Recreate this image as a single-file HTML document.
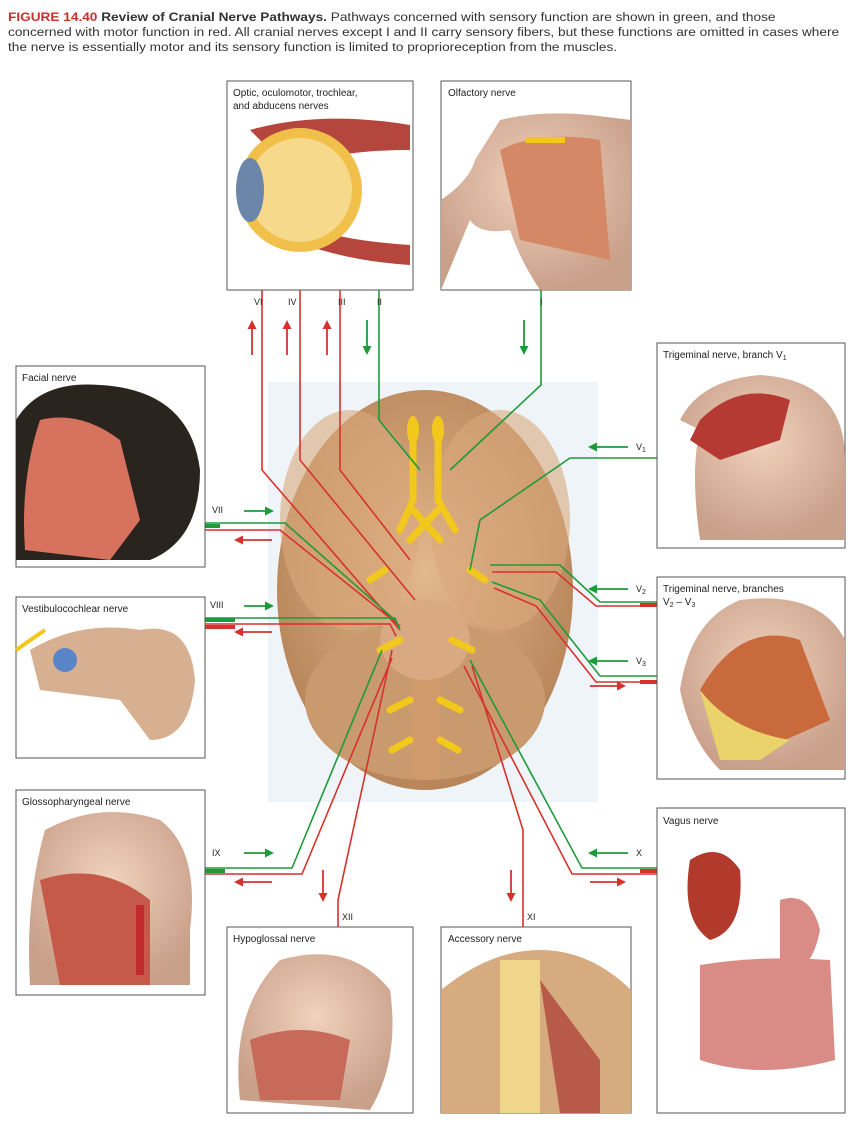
<!DOCTYPE html>
<html><head><meta charset="utf-8"><style>
body{margin:0;background:#fff;}
.cap{position:absolute;left:8px;top:10px;font:12.4px/15px "Liberation Sans",sans-serif;color:#333;white-space:nowrap;transform:scaleX(1.1);transform-origin:0 0;}
.cap b.r{color:#c8312b}
</style></head><body>
<div class="cap"><b class="r">FIGURE 14.40</b> <b>Review of Cranial Nerve Pathways.</b> Pathways concerned with sensory function are shown in green, and those<br>concerned with motor function in red. All cranial nerves except I and II carry sensory fibers, but these functions are omitted in cases where<br>the nerve is essentially motor and its sensory function is limited to proprioreception from the muscles.</div>
<svg width="862" height="1128" style="position:absolute;left:0;top:0" font-family="Liberation Sans, sans-serif">
<defs>
<marker id="g" markerUnits="userSpaceOnUse" markerWidth="9" markerHeight="9" refX="7" refY="4.5" orient="auto"><path d="M0,0L9,4.5L0,9z" fill="#1f9a3a"/></marker>
<marker id="r" markerUnits="userSpaceOnUse" markerWidth="9" markerHeight="9" refX="7" refY="4.5" orient="auto"><path d="M0,0L9,4.5L0,9z" fill="#d6322c"/></marker>
<radialGradient id="br" cx="50%" cy="45%" r="55%"><stop offset="0" stop-color="#e3b88c"/><stop offset="1" stop-color="#b8855a"/></radialGradient>
<radialGradient id="sk" cx="50%" cy="40%" r="60%"><stop offset="0" stop-color="#f1d2bd"/><stop offset="1" stop-color="#c9a08a"/></radialGradient>
</defs>
<rect x="268" y="382" width="330" height="420" fill="#eef4f8"/>
<ellipse cx="425" cy="590" rx="148" ry="200" fill="url(#br)"/>
<ellipse cx="350" cy="520" rx="70" ry="110" fill="#d9a97c" opacity=".6"/>
<ellipse cx="500" cy="520" rx="70" ry="110" fill="#d9a97c" opacity=".6"/>
<ellipse cx="425" cy="700" rx="120" ry="80" fill="#c99a6e"/>
<rect x="412" y="620" width="28" height="160" rx="10" fill="#d09a6a"/>
<ellipse cx="425" cy="640" rx="45" ry="40" fill="#d8a982"/>
<g stroke="#f2c81c" stroke-width="7" fill="none" stroke-linecap="round">
<path d="M413,430L413,500M438,430L438,500M413,500L400,530M438,500L455,530M413,510L440,540M438,510L410,540"/>
<path d="M385,570L370,580M470,570L485,580M400,640L380,650M452,640L472,650M410,700L390,710M440,700L460,710M410,740L392,750M440,740L458,750"/>
</g>
<ellipse cx="413" cy="430" rx="6" ry="14" fill="#f2c81c"/><ellipse cx="438" cy="430" rx="6" ry="14" fill="#f2c81c"/>
<g fill="none" stroke-width="1.6">
<path d="M262,290V470L400,630" stroke="#d6322c"/>
<path d="M300,290V460L415,600" stroke="#d6322c"/>
<path d="M340,290V470L410,560" stroke="#d6322c"/>
<path d="M379,290V420L420,470" stroke="#1f9a3a"/>
<path d="M541,290V385L450,470" stroke="#1f9a3a"/>
<path d="M657,458H570L480,520L470,570" stroke="#1f9a3a"/>
<path d="M657,602H600L560,565H490" stroke="#1f9a3a"/>
<path d="M657,606H596L556,572H492" stroke="#d6322c"/>
<path d="M657,676H600L540,600L492,582" stroke="#1f9a3a"/>
<path d="M657,682H596L536,606L494,588" stroke="#d6322c"/>
<path d="M205,523H285L395,620" stroke="#1f9a3a"/>
<path d="M205,530H280L400,626" stroke="#d6322c"/>
<path d="M205,618H395L400,630" stroke="#1f9a3a"/>
<path d="M205,624H390L396,636" stroke="#d6322c"/>
<path d="M205,868H292L382,650" stroke="#1f9a3a"/>
<path d="M205,874H302L392,658" stroke="#d6322c"/>
<path d="M657,868H582L470,660" stroke="#1f9a3a"/>
<path d="M657,874H572L464,666" stroke="#d6322c"/>
<path d="M338,927V900L392,650" stroke="#d6322c"/>
<path d="M523,927V830L472,666" stroke="#d6322c"/>
</g>
<g stroke-width="4"><path d="M205,526h15" stroke="#1f9a3a"/><path d="M205,620h30" stroke="#1f9a3a"/><path d="M205,627h30" stroke="#d6322c"/><path d="M205,871h20" stroke="#1f9a3a"/><path d="M640,605h17" stroke="#d6322c"/><path d="M640,682h17" stroke="#d6322c"/><path d="M640,871h17" stroke="#d6322c"/></g>
<g stroke-width="1.8">
<path d="M252,355V322" stroke="#d6322c" marker-end="url(#r)"/>
<path d="M287,355V322" stroke="#d6322c" marker-end="url(#r)"/>
<path d="M327,355V322" stroke="#d6322c" marker-end="url(#r)"/>
<path d="M367,320V353" stroke="#1f9a3a" marker-end="url(#g)"/>
<path d="M524,320V353" stroke="#1f9a3a" marker-end="url(#g)"/>
<path d="M244,511H272" stroke="#1f9a3a" marker-end="url(#g)"/>
<path d="M272,540H236" stroke="#d6322c" marker-end="url(#r)"/>
<path d="M244,606H272" stroke="#1f9a3a" marker-end="url(#g)"/>
<path d="M272,632H236" stroke="#d6322c" marker-end="url(#r)"/>
<path d="M244,853H272" stroke="#1f9a3a" marker-end="url(#g)"/>
<path d="M272,882H236" stroke="#d6322c" marker-end="url(#r)"/>
<path d="M628,447H590" stroke="#1f9a3a" marker-end="url(#g)"/>
<path d="M628,589H590" stroke="#1f9a3a" marker-end="url(#g)"/>
<path d="M628,661H590" stroke="#1f9a3a" marker-end="url(#g)"/>
<path d="M590,686H624" stroke="#d6322c" marker-end="url(#r)"/>
<path d="M628,853H590" stroke="#1f9a3a" marker-end="url(#g)"/>
<path d="M590,882H624" stroke="#d6322c" marker-end="url(#r)"/>
<path d="M323,870V900" stroke="#d6322c" marker-end="url(#r)"/>
<path d="M511,870V900" stroke="#d6322c" marker-end="url(#r)"/>
</g>
<g font-size="9" fill="#222">
<text x="254" y="305">VI</text><text x="288" y="305">IV</text><text x="338" y="305">III</text><text x="377" y="305">II</text><text x="540" y="305">I</text>
<text x="212" y="513">VII</text><text x="210" y="608">VIII</text><text x="212" y="856">IX</text>
<text x="636" y="450">V<tspan font-size="7" dy="2">1</tspan></text><text x="636" y="592">V<tspan font-size="7" dy="2">2</tspan></text><text x="636" y="664">V<tspan font-size="7" dy="2">3</tspan></text>
<text x="636" y="856">X</text><text x="342" y="920">XII</text><text x="527" y="920">XI</text>
</g>
<g fill="#fff" stroke="#555" stroke-width="1">
<rect x="227" y="81" width="186" height="209"/><rect x="441" y="81" width="190" height="209"/>
<rect x="657" y="343" width="188" height="205"/><rect x="16" y="366" width="189" height="201"/>
<rect x="16" y="597" width="189" height="161"/><rect x="657" y="577" width="188" height="202"/>
<rect x="16" y="790" width="189" height="205"/><rect x="657" y="808" width="188" height="305"/>
<rect x="227" y="927" width="186" height="186"/><rect x="441" y="927" width="190" height="186"/>
</g>
<g font-size="10" fill="#222">
<text x="233" y="96">Optic, oculomotor, trochlear,</text><text x="233" y="109">and abducens nerves</text>
<text x="448" y="96">Olfactory nerve</text>
<text x="663" y="358">Trigeminal nerve, branch V<tspan font-size="7" dy="2">1</tspan></text>
<text x="22" y="381">Facial nerve</text>
<text x="22" y="612">Vestibulocochlear nerve</text>
<text x="663" y="592">Trigeminal nerve, branches</text><text x="663" y="605">V<tspan font-size="7" dy="2">2</tspan><tspan dy="-2"> – V</tspan><tspan font-size="7" dy="2">3</tspan></text>
<text x="22" y="805">Glossopharyngeal nerve</text>
<text x="663" y="824">Vagus nerve</text>
<text x="233" y="942">Hypoglossal nerve</text>
<text x="448" y="942">Accessory nerve</text>
</g>
<path d="M250,130Q320,110 410,125L410,150Q330,150 290,170z" fill="#b5463e"/>
<path d="M270,230Q330,260 410,265L410,245Q330,240 290,220z" fill="#b5463e"/>
<circle cx="300" cy="190" r="62" fill="#f0c04a"/><circle cx="300" cy="190" r="52" fill="#f6d98a"/>
<ellipse cx="250" cy="190" rx="14" ry="32" fill="#6b86a8"/>
<path d="M441,290V200Q470,180 475,160L500,120Q540,110 590,115L631,120V290H540Q520,260 510,230Q480,235 470,220Z" fill="url(#sk)"/>
<path d="M500,150Q540,130 600,140L610,260L520,240Z" fill="#d58866"/>
<path d="M525,140h40" stroke="#f2c81c" stroke-width="6"/>
<path d="M700,540Q690,470 700,430L680,420Q700,380 760,375Q845,380 845,460V540Z" fill="url(#sk)"/>
<path d="M700,420Q740,380 790,400L780,440L720,460L690,440Z" fill="#b53a34"/>
<path d="M16,560V420Q40,380 100,385Q190,390 200,470Q200,540 150,560Z" fill="#2a241f"/>
<path d="M25,550Q20,480 40,420Q80,410 120,440L140,520L110,560Z" fill="#d7725e"/>
<path d="M30,650Q80,620 140,630Q190,620 195,680Q190,740 150,740L120,700L40,690Z" fill="#d6b090"/>
<circle cx="65" cy="660" r="12" fill="#5a84c8"/><path d="M16,650L45,630" stroke="#f2c81c" stroke-width="4"/>
<path d="M680,690Q690,620 740,600Q820,590 845,640V770H720Q690,740 680,690Z" fill="url(#sk)"/>
<path d="M700,690Q740,620 800,640L830,720L740,760Z" fill="#c86a3c"/><path d="M700,690Q730,730 790,740L760,760H720Z" fill="#e9d36a"/>
<path d="M30,985Q25,900 45,830Q100,800 160,820Q200,850 190,930V985Z" fill="url(#sk)"/>
<path d="M40,880Q100,860 150,900L150,985H60Z" fill="#c65a4a"/><path d="M140,905v70" stroke="#c02a2a" stroke-width="8"/>
<path d="M690,860Q720,840 740,870Q745,930 710,940Q680,920 690,860Z" fill="#b23a2c"/>
<path d="M700,965Q760,955 830,960L835,1060Q760,1080 700,1060Z" fill="#d98b86"/>
<path d="M780,900Q810,890 820,930Q810,980 780,970Z" fill="#d98b86"/>
<path d="M240,1100Q230,1010 280,960Q350,940 390,990Q400,1060 370,1110Z" fill="url(#sk)"/>
<path d="M250,1040Q300,1020 350,1040L340,1100H260Z" fill="#c86a5a"/>
<path d="M441,1113V990Q490,950 540,950Q590,950 631,990V1113Z" fill="#d7ab80"/>
<path d="M500,960h40v153h-40z" fill="#f0d68a"/><path d="M540,980L600,1060L600,1113L560,1113Z" fill="#b85a4a"/>
</svg>
</body></html>
